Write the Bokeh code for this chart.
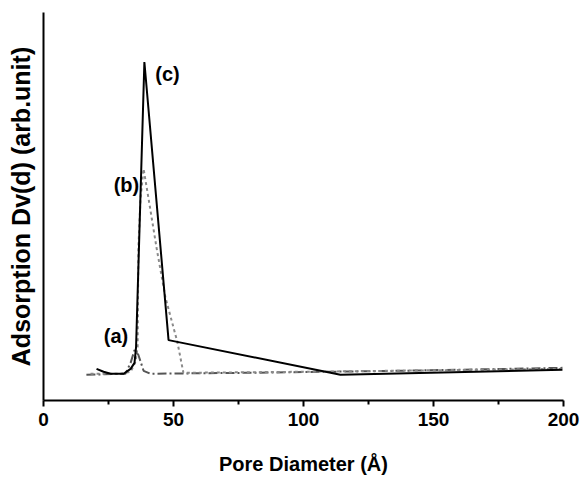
from bokeh.plotting import figure
from bokeh.models import Range1d, FixedTicker
from bokeh.embed import file_html
from bokeh.resources import INLINE
from bokeh.core.properties import value

# Curve (c): solid black
pore_c = [20.4, 23.1, 25.8, 30.8, 33.5, 35.0, 35.6, 38.8, 48.1, 114.2, 199.6]
dv_c = [32, 29, 27, 27, 32, 38, 54, 342, 61, 26, 31]

# Curve (b): gray dotted
pore_b = [18.1, 29.6, 33.5, 35.4, 36.2, 36.5, 37.3, 38.5, 40.4, 43.5, 46.9, 51.5, 53.8, 98.8, 200.0]
dv_b = [27, 27, 29, 39, 54, 154, 204, 234, 204, 154, 104, 59, 28, 29, 32]

# Curve (a): dark gray dash-dot
pore_a = [16.5, 31.5, 33.5, 35.0, 36.5, 38.5, 41.2, 79.6, 137.3, 200.0]
dv_a = [26, 27, 38, 51, 46, 30, 27, 28, 30, 33]

labels = ["(c)", "(b)", "(a)"]
label_x = [47.7, 31.9, 27.9]
label_y = [330, 218, 65]

x_ticks = [0, 50, 100, 150, 200]

p = figure(width=582, height=477, output_backend="svg", toolbar_location=None,
           x_range=Range1d(0, 200), y_range=Range1d(0, 392),
           min_border_left=43, min_border_right=19, min_border_top=12, min_border_bottom=73)
p.outline_line_color = None
p.xgrid.visible = False
p.ygrid.visible = False
p.background_fill_color = "white"

p.line(pore_a, dv_a, line_color="#555555", line_width=2, line_dash="9 3 2 3")
p.line(pore_b, dv_b, line_color="#8a8a8a", line_width=2, line_dash="3 3")
p.line(pore_c, dv_c, line_color="black", line_width=2)

p.text(label_x, label_y, text=labels, text_font=value("Liberation Sans"),
       text_font_style="bold", text_font_size="20px", text_align="center",
       text_baseline="middle", text_color="black")

xa = p.xaxis[0]
xa.ticker = FixedTicker(ticks=x_ticks, minor_ticks=[25, 75, 125, 175])
xa.axis_line_width = 2
xa.axis_line_color = "black"
xa.major_tick_line_width = 2
xa.minor_tick_line_width = 2
xa.major_tick_out = 6
xa.major_tick_in = 0
xa.minor_tick_out = 4
xa.minor_tick_in = 0
xa.major_label_text_font = "Liberation Sans"
xa.major_label_text_font_style = "bold"
xa.major_label_text_font_size = "19px"
xa.major_label_text_color = "black"
xa.major_label_standoff = 6
xa.axis_label = "Pore Diameter (Å)"
xa.axis_label_text_font = "Liberation Sans"
xa.axis_label_text_font_style = "bold"
xa.axis_label_text_font_size = "20px"
xa.axis_label_text_color = "black"
xa.axis_label_standoff = 24

ya = p.yaxis[0]
ya.ticker = FixedTicker(ticks=[])
ya.axis_line_width = 2
ya.axis_line_color = "black"
ya.major_tick_line_color = None
ya.minor_tick_line_color = None
ya.major_label_text_font_size = "0px"
ya.axis_label = "Adsorption Dv(d) (arb.unit)"
ya.axis_label_text_font = "Liberation Sans"
ya.axis_label_text_font_style = "bold"
ya.axis_label_text_font_size = "25px"
ya.axis_label_text_color = "black"
ya.axis_label_standoff = 9

open("out.html", "w").write(file_html(p, INLINE))
